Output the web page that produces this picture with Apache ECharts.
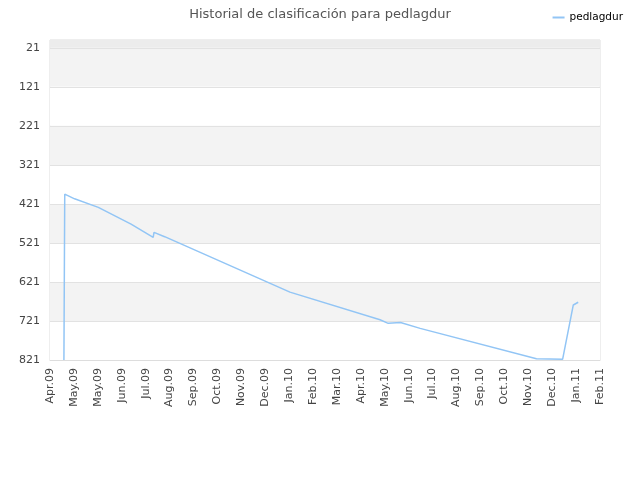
<!DOCTYPE html>
<html>
<head>
<meta charset="utf-8">
<script src="https://cdn.jsdelivr.net/npm/echarts@6/dist/echarts.min.js"></script>
<style>html,body{margin:0;padding:0;background:#fff;}#c{width:640px;height:480px;}</style>
</head>
<body>
<div id="c"></div>
<script>
var titleText = 'Historial de clasificación para pedlagdur';
var seriesName = 'pedlagdur';
var xOrigin = '2009-04-02';
var xStepDays = 29.2;
var xLabels = ['Apr.09','May.09','May.09','Jun.09','Jul.09','Aug.09','Sep.09','Oct.09','Nov.09','Dec.09','Jan.10','Feb.10','Mar.10','Apr.10','May.10','Jun.10','Jul.10','Aug.10','Sep.10','Oct.10','Nov.10','Dec.10','Jan.11','Feb.11'];
var yMin = 1;
var yMax = 821;
var yTicks = [21,121,221,321,421,521,621,721,821];
var dates = ['2009-04-19','2009-04-20','2009-04-22','2009-05-02','2009-05-31','2009-07-10','2009-08-06','2009-08-07','2009-08-20','2010-01-20','2010-05-10','2010-05-20','2010-05-21','2010-06-04','2010-06-28','2010-11-17','2010-12-19','2011-01-01','2011-01-07'];
var ranks = [821,396,398,408,430,473,507,494,505,647,718,727,725,725,740,818,819,680,673];

var o = Date.parse(xOrigin);
var data = dates.map(function(d,i){ return [(Date.parse(d)-o)/86400000, ranks[i]]; });

var chart = echarts.init(document.getElementById('c'));
var font = 'DejaVu Sans';
chart.setOption({
  animation: false,
  textStyle: {fontFamily: font},
  title: {text: titleText, left: 'center', top: 3, textStyle: {fontSize: 13, fontWeight: 'normal', color: '#555', fontFamily: font}},
  legend: {right: 12, top: 7, itemWidth: 12, itemHeight: 2, itemGap: 6, textStyle: {fontSize: 10.5, color: '#000', fontFamily: font},
    data: [{name: seriesName, icon: 'rect'}]},
  grid: {left: 50, right: 40, top: 40, bottom: 120, show: true, borderColor: '#dddddd', borderWidth: 1, backgroundColor: 'transparent'},
  xAxis: {
    type: 'value', min: 0, max: xStepDays * (xLabels.length - 1), interval: xStepDays,
    axisLine: {show: true, lineStyle: {color: '#dddddd'}},
    axisTick: {show: false},
    splitLine: {show: false},
    axisLabel: {rotate: 90, fontSize: 11, color: '#444', margin: 8, showMinLabel: true, showMaxLabel: true,
      formatter: function(v){ return xLabels[Math.round(v / xStepDays)] || ''; }}
  },
  yAxis: {
    type: 'value', inverse: true, min: yMin, max: yMax,
    axisLine: {show: false},
    axisTick: {show: false, customValues: yTicks},
    axisLabel: {fontSize: 11, color: '#444', margin: 10, customValues: yTicks},
    splitLine: {show: true, lineStyle: {color: '#e2e2e2'}},
    splitArea: {show: true, areaStyle: {color: ['#f3f3f3','#ffffff']}}
  },
  series: [{
    name: seriesName, type: 'line', symbol: 'none', data: data,
    lineStyle: {color: '#92c5f5', width: 1.5}, itemStyle: {color: '#92c5f5'},
    markArea: {silent: true, itemStyle: {color: '#ececec'}, data: [[{yAxis: yMin}, {yAxis: yTicks[0]}]]}
  }]
});
</script>
</body>
</html>
